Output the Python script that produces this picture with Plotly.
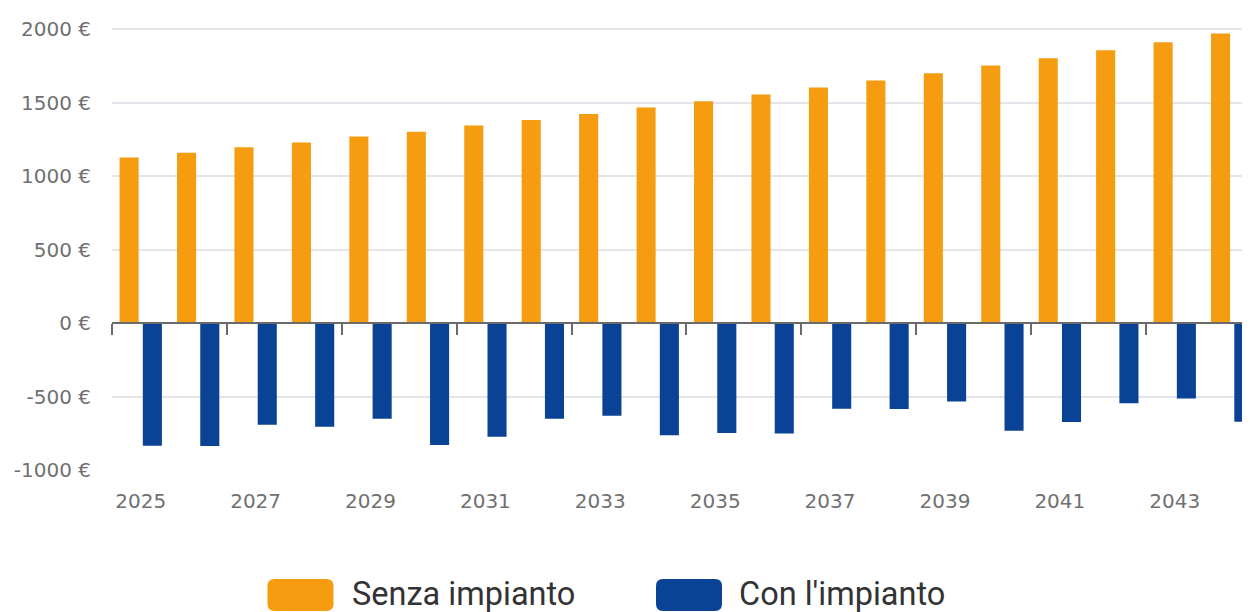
import plotly.graph_objects as go

years = list(range(2025, 2045))
senza_impianto = [1127, 1159, 1197, 1229, 1270, 1302, 1345, 1383, 1424, 1467,
                  1510, 1556, 1603, 1651, 1701, 1753, 1803, 1857, 1912, 1971]
con_impianto = [-835, -837, -692, -705, -651, -830, -773, -651, -630, -764,
                -748, -751, -583, -585, -533, -733, -673, -546, -513, -671]
y_ticks = [-1000, -500, 0, 500, 1000, 1500, 2000]
y_labels = [f"{v} €" for v in y_ticks]
legend_names = ["Senza impianto", "Con l'impianto"]
colors = ["#F59C10", "#0A4395"]

OFF = 8  # default page body margin
W, H = 1250 - OFF, 612 - OFF
ML, MR, MT, MB = 112 - OFF, 0, 20 - OFF, 142
y_range = [-1000, 2063]
x_range = [years[0] - 0.5, years[-1] + 0.31]

fig = go.Figure()
fig.add_trace(go.Bar(x=years, y=senza_impianto, name=legend_names[0],
                     marker=dict(color=colors[0], line=dict(width=0)), showlegend=False))
fig.add_trace(go.Bar(x=years, y=con_impianto, name=legend_names[1],
                     marker=dict(color=colors[1], line=dict(width=0)), showlegend=False))
# helper (empty) trace so that the tick axis on the zero line is drawn
fig.add_trace(go.Scatter(x=[], y=[], xaxis="x2", showlegend=False, hoverinfo="skip"))

zero_pos = (0 - y_range[0]) / (y_range[1] - y_range[0])

fig.update_layout(
    width=W, height=H,
    margin=dict(l=ML, r=MR, t=MT, b=MB, autoexpand=False),
    plot_bgcolor="white", paper_bgcolor="white",
    barmode="group", bargap=0.19, bargroupgap=0.18,
    font=dict(family="DejaVu Sans", color="#707070", size=20),
    xaxis=dict(
        type="linear", range=x_range, tick0=years[0], dtick=2,
        showgrid=False, zeroline=False, showline=False, ticks="",
        ticklabelstandoff=17, tickfont=dict(size=20, color="#707070"),
        automargin=False,
    ),
    xaxis2=dict(
        type="linear", range=x_range, overlaying="x", anchor="free",
        position=zero_pos, side="bottom",
        tick0=years[0] - 0.5, dtick=2, ticks="outside", ticklen=11,
        tickwidth=2, tickcolor="#6a6a6a", showticklabels=False,
        showgrid=False, zeroline=False, showline=True, linecolor="#6a6a6a",
        linewidth=2, automargin=False,
    ),
    yaxis=dict(
        range=y_range, tickvals=y_ticks, ticktext=y_labels,
        showgrid=True, gridcolor="#e4e4ea", gridwidth=2,
        zeroline=False, showline=False, ticks="",
        ticklabelstandoff=20, tickfont=dict(size=20, color="#707070"),
        automargin=False,
    ),
)

# custom legend with large rounded swatches (positions in screen pixels)
pw = W - ML - MR
ph = H - MT - MB


def px_to_paper(px, py):
    return (px - OFF - ML) / pw, (H - MB - (py - OFF)) / ph


def rounded_rect(hw, hh, r):
    return (f"M {-hw + r},{-hh} L {hw - r},{-hh} Q {hw},{-hh} {hw},{-hh + r} "
            f"L {hw},{hh - r} Q {hw},{hh} {hw - r},{hh} L {-hw + r},{hh} "
            f"Q {-hw},{hh} {-hw},{hh - r} L {-hw},{-hh + r} Q {-hw},{-hh} {-hw + r},{-hh} Z")


legend_items = [(300.5, 350), (689, 737)]
for (cx, tx), name, col in zip(legend_items, legend_names, colors):
    ax, ay = px_to_paper(cx, 595)
    fig.add_shape(type="path", xref="paper", yref="paper", xsizemode="pixel",
                  ysizemode="pixel", xanchor=ax, yanchor=ay,
                  path=rounded_rect(33, 16, 7), fillcolor=col, line=dict(width=0),
                  layer="above")
    tx_p, ty_p = px_to_paper(tx, 594)
    fig.add_annotation(x=tx_p, y=ty_p, xref="paper", yref="paper", text=name,
                       showarrow=False, xanchor="left", yanchor="middle",
                       font=dict(family="Roboto", size=32.5, color="#333333"))

fig.write_html("out.html")
